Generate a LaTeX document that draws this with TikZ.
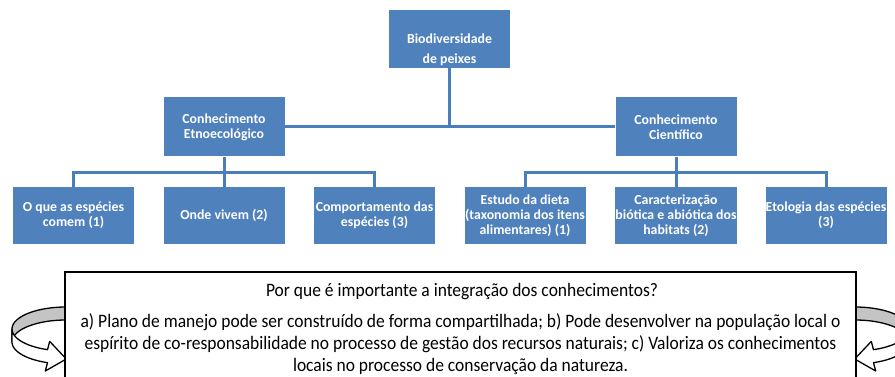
\documentclass[tikz,border=0pt]{standalone}
\usepackage{fontspec}
\setmainfont{Carlito}
\newfontfamily\bodyfont[FakeStretch=0.92]{Carlito}
\definecolor{boxblue}{HTML}{4F81BD}
\definecolor{lineblue}{HTML}{4A7EBB}
\definecolor{bandgray}{HTML}{C4C4C4}
\newcommand\curlarrowpart{%
  \filldraw[arrowline, fill=bandgray]
    plot[domain=270:180, samples=30] ({66+54*cos(\x)},{329+22*sin(\x)})
    -- plot[domain=180:270, samples=30] ({66+54*cos(\x)},{342+22*sin(\x)})
    -- cycle;
  \filldraw[arrowline, fill=white]
    plot[domain=180:110, samples=30] ({66+54*cos(\x)},{329+22*sin(\x)})
    -- (49.7,341.4) -- (66.3,359.0) -- (45.3,371.0)
    -- plot[domain=110:180, samples=30] ({66+54*cos(\x)},{342+22*sin(\x)})
    -- cycle;
}
\begin{document}
\begin{tikzpicture}[x=1pt, y=-1pt,
  bluebox/.style={fill=boxblue, draw=none, text=white, align=center, inner sep=0pt,
    font=\fontsize{13.8}{15}\selectfont\bfseries, minimum width=121pt, minimum height=58pt},
  boxtext/.style={text=white, align=center, inner sep=0pt, font=\fontsize{13.8}{20}\selectfont\bfseries},
  conn/.style={draw=lineblue, line width=3pt},
  arrowline/.style={draw=black, line width=1.3pt, line join=round},
  bodytxt/.style={font=\bodyfont\fontsize{19}{22}\selectfont, anchor=base, inner sep=0pt}]
\useasboundingbox (0,0) rectangle (895,377);
\clip (0,0) rectangle (895,377);

% blue boxes
\node[bluebox] (top) at (449.5,39) {};
\node[boxtext] (toptext) at (449.5,50) {Biodiversidade\\de peixes};
\node[bluebox, minimum height=59pt] (L) at (224,127) {Conhecimento\\Etnoecológico};
\node[bluebox, minimum height=59pt] (R) at (676,127) {Conhecimento\\Científico};
\node[bluebox, minimum height=57pt] (b1) at (73.5,215.5) {O que as espécies\\comem (1)};
\node[bluebox, minimum height=57pt] (b2) at (224,215.5) {Onde vivem (2)};
\node[bluebox, minimum height=57pt] (b3) at (374.5,215.5) {Comportamento das\\espécies (3)};
\node[bluebox, minimum height=57pt] (b4) at (525,215.5) {Estudo da dieta\\(taxonomia dos itens\\alimentares) (1)};
\node[bluebox, minimum height=57pt] (b5) at (676,215.5) {Caracterização\\biótica e abiótica dos\\habitats (2)};
\node[bluebox, minimum height=57pt] (b6) at (826,215.5) {Etologia das espécies\\(3)};

% connectors
\coordinate (hubT) at (449.5,127);
\coordinate (hubL) at (224,173);
\coordinate (hubR) at (676,173);
\draw[conn] (top.south) -- (hubT);
\draw[conn] (L.east) -- (R.west);
\draw[conn] (L.south) -- (b2.north);
\draw[conn] (b1.north) |- (hubL) -| (b3.north);
\draw[conn] (R.south) -- (b5.north);
\draw[conn] (b4.north) |- (hubR) -| (b6.north);

% curled arrows
\curlarrowpart
\begin{scope}[shift={(921,0)}, xscale=-1]
\curlarrowpart
\end{scope}

% text box
\draw[fill=white, draw=black, line width=1.3pt] (65,272) rectangle (856,400);
\node[bodytxt] (q) at (462,296) {Por que é importante a integração dos conhecimentos?};
\node[bodytxt] (l1) at (460.5,327) {a) Plano de manejo pode ser construído de forma compartilhada; b) Pode desenvolver na população local o};
\node[bodytxt] (l2) at (460.5,349) {espírito de co-responsabilidade no processo de gestão dos recursos naturais; c) Valoriza os conhecimentos};
\node[bodytxt] (l3) at (460.5,371) {locais no processo de conservação da natureza.};
\end{tikzpicture}
\end{document}
